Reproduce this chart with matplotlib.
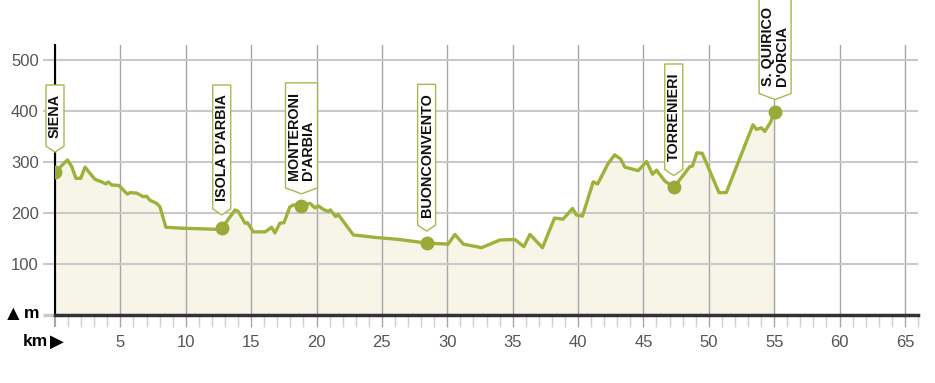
import matplotlib
matplotlib.use('Agg')
import matplotlib.pyplot as plt
from matplotlib.patches import Polygon
from matplotlib.transforms import IdentityTransform

# ---- data -------------------------------------------------------------
km = [0, 0.95, 1.28, 1.6, 1.97, 2.3, 2.67, 3.06, 3.57, 3.89, 4.08, 4.33, 4.89,
      5.53, 5.74, 6.25, 6.75, 7.0, 7.26, 7.77, 8.03, 8.48, 9.81, 12.37, 12.75,
      13.77, 14.02, 14.53, 14.72, 15.17, 16.07, 16.56, 16.82, 17.2, 17.51,
      17.96, 18.26, 18.85, 19.5, 19.88, 20.14, 20.52, 20.9, 21.06, 21.46,
      21.66, 22.82, 24.55, 26.35, 28.42, 30.07, 30.58, 31.23, 32.62, 34.02,
      35.17, 35.86, 36.32, 37.28, 38.2, 38.86, 39.58, 39.88, 40.34, 41.16,
      41.5, 42.3, 42.8, 43.25, 43.58, 44.6, 45.24, 45.7, 46.0, 46.63, 47.32,
      48.55, 48.75, 49.09, 49.5, 50.78, 51.34, 53.38, 53.64, 54.02, 54.28,
      54.68, 55.07]
elev = [280, 304, 291, 268, 268, 290, 278, 266, 261, 257, 261, 255, 254,
        237, 240, 239, 232, 233, 225, 219, 212, 172, 170, 168, 170,
        206, 203, 180, 181, 163, 163, 172, 161, 180, 181,
        212, 216, 214, 219, 210, 214, 207, 203, 206, 193,
        197, 157, 152, 148, 141, 139, 158, 139, 132, 147,
        148, 134, 158, 132, 190, 188, 209, 196, 194, 261,
        257, 297, 314, 306, 290, 283, 301, 276, 284, 263, 250,
        291, 292, 318, 317, 240, 240, 373, 364, 367, 360,
        376, 399]

place_names = ['SIENA', "ISOLA D'ARBIA", "MONTERONI\nD'ARBIA", 'BUONCONVENTO',
               'TORRENIERI', "S. QUIRICO\nD'ORCIA"]
place_km = [0, 12.75, 18.85, 28.42, 47.32, 55.07]
place_elev = [280, 170, 214, 141, 250, 399]

x_ticks = list(range(0, 70, 5))
x_tick_labels = [''] + [str(v) for v in range(5, 70, 5)]
x_minor = list(range(0, 67))
y_ticks = [0, 100, 200, 300, 400, 500]
y_tick_labels = ['', '100', '200', '300', '400', '500']

# ---- style ------------------------------------------------------------
plt.rcParams['font.family'] = ['Liberation Sans', 'DejaVu Sans']

LINE = '#9db23a'
MARK = '#9aa938'
FILL = '#f7f5e8'
BOXEDGE = '#aab84f'

fig = plt.figure(figsize=(9.35, 3.83), dpi=100)
ax = fig.add_axes([55 / 935, 68 / 383, 863 / 935, 270 / 383])
ax.set_xlim(0, 66)
ax.set_ylim(0, 529.4)

ax.fill_between(km, elev, 0, color=FILL, lw=0, zorder=0.3)
ax.plot(km, elev, color=LINE, lw=2.4, zorder=3)
ax.plot(place_km, place_elev, 'o', ms=10, color=MARK, mew=0, zorder=4)

ax.set_axisbelow(True)
ax.grid(axis='x', color='#a6a6a6', lw=1)
ax.grid(axis='y', color='#c9c9c9', lw=1.5)

ax.set_xticks(x_ticks, x_tick_labels)
ax.set_xticks(x_minor, minor=True)
ax.tick_params(axis='x', which='major', length=8.64, width=1, color='#a6a6a6',
               pad=6, labelsize=12, labelcolor='#555555')
ax.tick_params(axis='x', which='minor', length=8.64, width=1, color='#d0d0d0')
t0 = ax.xaxis.get_major_ticks()[0]
t0.tick1line.set_color('black')
t0.tick1line.set_markeredgewidth(1.5)

ax.set_yticks(y_ticks, y_tick_labels)
ax.tick_params(axis='y', length=8.64, width=1.5, color='#c9c9c9', pad=3,
               labelsize=12, labelcolor='#555555')
y0 = ax.yaxis.get_major_ticks()[0]
y0.tick1line.set_color('#333333')
y0.tick1line.set_markeredgewidth(2.5)

for s in ('top', 'right'):
    ax.spines[s].set_visible(False)
ax.spines['left'].set_color('black')
ax.spines['left'].set_linewidth(1.5)
ax.spines['bottom'].set_color('#333333')
ax.spines['bottom'].set_linewidth(2.5)

common = dict(xy=(0, 0), textcoords='offset pixels', va='center',
              fontweight='bold', color='black', annotation_clip=False)
ax.annotate('▲', xytext=(-32, 0), ha='right', fontsize=15, **common)
ax.annotate('m', xytext=(-16, 1), ha='right', fontsize=12.5, **common)
ax.annotate('km', xytext=(-7, -27), ha='right', fontsize=12.5, **common)
ax.annotate('▶', xytext=(9, -27), ha='right', fontsize=13, **common)

# ---- place labels -----------------------------------------------------
fig.canvas.draw()
renderer = fig.canvas.get_renderer()
top_line = ax.transAxes.transform((0, 1))[1] - 49   # usual top of the text
for name, x, y in zip(place_names, place_km, place_elev):
    mx, my = ax.transData.transform((x, y))
    t = ax.annotate(name, xy=(x, y), xytext=(0, 26), textcoords='offset pixels',
                    rotation=90, ha='center', va='bottom', fontsize=10.4,
                    fontweight='bold', color='#111111', multialignment='left',
                    linespacing=1.0, zorder=7, annotation_clip=False)
    bb = t.get_window_extent(renderer)
    if bb.y1 < top_line:
        shift = top_line - bb.y1
        t.xyann = (0, 26 + shift)
        bb = t.get_window_extent(renderer)
    left, right = bb.x0 - 2, bb.x1 + 2
    top = bb.y1 + 9
    rb = bb.y0 - 8
    tip = rb - 6
    poly = Polygon([(left, top), (right, top), (right, rb), (mx, tip), (left, rb)],
                   closed=True, transform=IdentityTransform(), fc='white',
                   ec=BOXEDGE, lw=1, zorder=6, clip_on=False)
    ax.add_artist(poly)

fig.savefig('out.png', dpi=100)
